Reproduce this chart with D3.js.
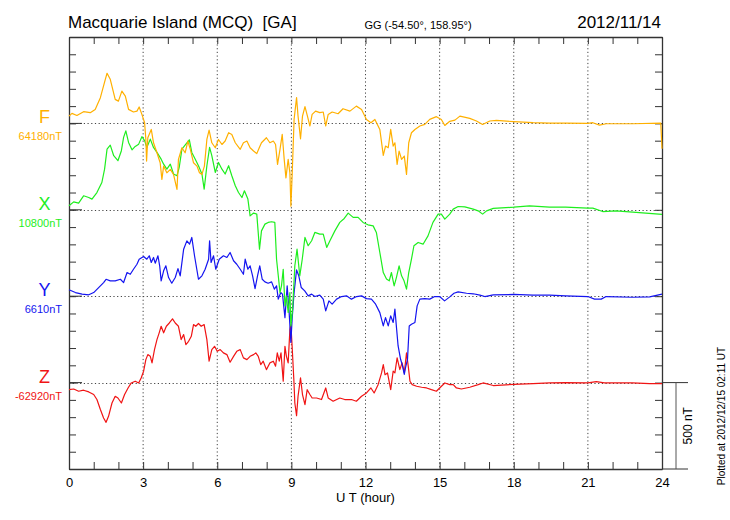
<!DOCTYPE html>
<html>
<head>
<meta charset="utf-8">
<script src="https://cdn.jsdelivr.net/npm/d3@7"></script>
<style>
  body { margin: 0; background: #fff; }
  svg { display: block; font-family: 'Liberation Sans', Arial, Helvetica, sans-serif; }
  .frame path, .frame line { stroke: #333; }
</style>
</head>
<body>
<div id="container"></div>
<script>
const width = 730
const height = 520

// ----------------------------- DATA ----------------------------- //
// [hour UT, nT from baseline]
const fData = [[0,42],[0.12,58],[0.32,46],[0.59,68],[0.86,62],[1.06,81],[1.27,149],[1.47,255],[1.54,290],[1.67,255],[1.87,139],[2.0,129],[2.14,187],[2.28,158],[2.41,81],[2.61,66],[2.75,71],[2.84,95],[2.95,52],[3.06,4],[3.11,-93],[3.14,-218],[3.19,-83],[3.33,-35],[3.42,-112],[3.56,-170],[3.69,-228],[3.76,-324],[3.83,-247],[3.96,-286],[4.10,-266],[4.23,-295],[4.37,-382],[4.43,-208],[4.57,-141],[4.70,-170],[4.81,-102],[4.91,-150],[5.04,-228],[5.18,-247],[5.28,-286],[5.38,-295],[5.48,-247],[5.58,-93],[5.67,-39],[5.78,-112],[5.92,-141],[6.05,-93],[6.19,-122],[6.32,-102],[6.46,-54],[6.59,-64],[6.73,-112],[6.93,-150],[7.06,-112],[7.20,-102],[7.33,-141],[7.47,-160],[7.60,-175],[7.70,-141],[7.79,-112],[7.99,-83],[8.13,-112],[8.27,-102],[8.36,-122],[8.44,-237],[8.54,-150],[8.63,-64],[8.71,-208],[8.78,-315],[8.87,-208],[8.94,-286],[8.98,-479],[9.03,-305],[9.11,23],[9.21,149],[9.27,42],[9.37,-89],[9.45,42],[9.55,97],[9.65,42],[9.75,-15],[9.84,52],[9.98,71],[10.15,62],[10.29,66],[10.39,-15],[10.49,52],[10.65,66],[10.89,56],[11.09,85],[11.37,71],[11.63,100],[11.84,81],[12.04,23],[12.22,4],[12.38,23],[12.58,-35],[12.72,-185],[12.81,-131],[12.92,-141],[13.02,-35],[13.12,-131],[13.19,-112],[13.28,-237],[13.36,-160],[13.46,-208],[13.57,-189],[13.66,-295],[13.75,-112],[13.86,-54],[14.0,-35],[14.2,-15],[14.4,-6],[14.6,23],[14.87,39],[15.07,23],[15.21,-12],[15.41,12],[15.62,19],[15.82,42],[16.22,29],[16.49,14],[16.74,-6],[17.03,14],[17.30,17],[18.0,10],[18.78,4],[19.45,2],[20.1,2],[21.0,0],[21.2,4],[21.47,-10],[21.74,-2],[22.8,-2],[23.95,2],[24.0,-147]]

const xData = [[0,23],[0.19,46],[0.39,39],[0.59,81],[0.8,71],[0.93,62],[1.13,100],[1.33,158],[1.44,235],[1.54,351],[1.67,374],[1.81,313],[1.98,284],[2.12,342],[2.21,419],[2.30,457],[2.41,390],[2.55,347],[2.68,367],[2.82,380],[2.95,423],[3.06,400],[3.15,361],[3.29,409],[3.42,361],[3.56,332],[3.73,293],[3.83,264],[3.96,235],[4.10,264],[4.23,207],[4.37,197],[4.46,245],[4.57,351],[4.73,380],[4.87,405],[4.97,332],[5.11,293],[5.24,255],[5.38,207],[5.47,120],[5.58,255],[5.69,361],[5.78,313],[5.92,216],[6.05,274],[6.19,235],[6.32,207],[6.46,255],[6.59,197],[6.73,139],[6.86,100],[7.0,71],[7.1,110],[7.24,62],[7.33,-35],[7.47,-19],[7.60,-25],[7.71,-228],[7.79,-122],[7.93,-83],[8.06,-73],[8.2,-69],[8.33,-73],[8.40,-286],[8.47,-382],[8.54,-479],[8.60,-440],[8.67,-344],[8.74,-556],[8.80,-498],[8.87,-594],[8.94,-479],[8.98,-672],[9.05,-575],[9.14,-324],[9.23,-228],[9.34,-382],[9.44,-286],[9.55,-160],[9.68,-208],[9.82,-179],[9.95,-131],[10.15,-141],[10.29,-141],[10.43,-218],[10.56,-179],[10.76,-122],[10.96,-73],[11.14,-50],[11.3,-19],[11.5,-44],[11.7,-44],[11.9,-73],[12.1,-87],[12.31,-93],[12.44,-131],[12.58,-247],[12.72,-363],[12.85,-401],[12.96,-411],[13.05,-363],[13.16,-440],[13.25,-392],[13.36,-324],[13.46,-382],[13.56,-411],[13.66,-459],[13.75,-363],[13.86,-286],[13.96,-208],[14.13,-189],[14.33,-199],[14.53,-151],[14.73,-73],[14.94,-25],[15.07,-25],[15.21,-54],[15.41,-25],[15.55,4],[15.75,19],[16.02,17],[16.36,4],[16.56,-6],[16.74,-25],[16.9,-6],[17.17,8],[18.0,15],[18.64,23],[19.45,15],[20.1,15],[21.0,10],[21.2,10],[21.6,-10],[22.14,-6],[22.95,-15],[24.0,-27]]

const yData = [[0,37],[0.26,21],[0.53,12],[0.8,8],[1.0,21],[1.2,50],[1.4,79],[1.5,98],[1.67,89],[1.87,89],[2.08,98],[2.21,79],[2.35,137],[2.48,127],[2.61,156],[2.75,185],[2.84,214],[3.02,230],[3.15,214],[3.25,234],[3.33,195],[3.42,224],[3.49,191],[3.60,234],[3.67,176],[3.73,89],[3.83,147],[3.92,176],[4.03,108],[4.16,75],[4.30,108],[4.41,160],[4.5,118],[4.64,272],[4.77,320],[4.88,301],[4.97,340],[5.08,234],[5.24,98],[5.38,118],[5.51,156],[5.65,214],[5.69,320],[5.75,195],[5.85,234],[5.94,156],[6.08,214],[6.25,234],[6.39,224],[6.52,253],[6.66,205],[6.79,185],[6.93,156],[7.06,127],[7.13,214],[7.24,156],[7.33,176],[7.43,118],[7.53,44],[7.63,118],[7.72,176],[7.82,98],[7.93,83],[8.06,75],[8.2,83],[8.31,41],[8.40,60],[8.47,-17],[8.57,21],[8.64,12],[8.74,-124],[8.83,60],[8.91,-95],[8.98,-268],[9.03,-133],[9.11,21],[9.21,152],[9.30,118],[9.40,50],[9.54,31],[9.68,2],[9.82,12],[9.95,-2],[10.15,6],[10.29,-17],[10.39,-85],[10.52,-27],[10.65,-46],[10.83,-17],[11.03,-2],[11.23,2],[11.43,-17],[11.64,-2],[11.84,2],[12.04,-14],[12.24,-17],[12.41,-46],[12.58,-95],[12.72,-172],[12.81,-124],[12.92,-172],[13.02,-114],[13.12,-152],[13.19,-75],[13.26,-191],[13.32,-288],[13.42,-365],[13.5,-403],[13.57,-452],[13.62,-413],[13.70,-365],[13.77,-172],[13.86,-162],[14.0,-152],[14.09,-56],[14.2,-17],[14.4,-14],[14.6,-17],[14.8,-2],[15.0,-2],[15.2,-27],[15.41,-4],[15.58,17],[15.75,25],[16.09,17],[16.36,14],[16.63,6],[16.83,-2],[17.17,8],[18.0,10],[18.78,6],[19.45,6],[20.1,2],[21.0,-2],[21.27,-17],[21.54,-17],[21.74,-2],[22.8,-6],[23.5,-4],[24.0,12]]

const zData = [[0,-41],[0.19,-37],[0.39,-50],[0.59,-44],[0.8,-54],[1.0,-69],[1.13,-98],[1.27,-156],[1.40,-205],[1.50,-230],[1.60,-195],[1.74,-118],[1.87,-79],[1.98,-89],[2.12,-118],[2.25,-69],[2.39,-31],[2.52,-2],[2.68,8],[2.82,-2],[2.92,27],[3.02,66],[3.11,133],[3.19,162],[3.29,152],[3.36,114],[3.46,191],[3.56,249],[3.65,288],[3.73,326],[3.83,288],[3.94,326],[4.06,345],[4.19,369],[4.30,345],[4.43,326],[4.54,249],[4.64,278],[4.73,220],[4.84,239],[4.95,268],[5.04,336],[5.13,326],[5.24,342],[5.35,326],[5.47,336],[5.58,249],[5.67,124],[5.78,191],[5.89,210],[6.0,181],[6.12,191],[6.25,172],[6.39,162],[6.52,118],[6.66,152],[6.79,181],[6.93,191],[7.06,143],[7.20,133],[7.33,152],[7.47,162],[7.56,172],[7.66,152],[7.76,104],[7.86,124],[7.99,75],[8.13,114],[8.27,124],[8.36,95],[8.43,172],[8.51,124],[8.58,172],[8.67,8],[8.74,210],[8.80,152],[8.87,114],[8.94,307],[8.98,336],[9.03,210],[9.10,17],[9.14,-118],[9.21,-191],[9.27,-79],[9.37,27],[9.45,-69],[9.55,-127],[9.64,-41],[9.75,-69],[9.84,-89],[10.02,-89],[10.22,-98],[10.39,-31],[10.49,-89],[10.69,-108],[10.96,-89],[11.16,-98],[11.43,-98],[11.63,-108],[11.84,-79],[12.04,-60],[12.22,-31],[12.35,-60],[12.51,-12],[12.65,56],[12.72,104],[12.79,46],[12.89,56],[13.02,-41],[13.12,66],[13.19,56],[13.28,143],[13.39,75],[13.48,114],[13.57,56],[13.66,172],[13.73,95],[13.80,8],[13.89,-12],[14.07,-21],[14.27,-27],[14.47,-31],[14.67,-41],[14.87,-50],[15.0,-31],[15.21,-2],[15.41,-12],[15.55,-12],[15.68,-31],[15.88,-37],[16.22,-27],[16.56,-12],[16.76,-2],[17.17,-17],[18.0,-10],[18.78,-6],[19.45,-2],[20.1,0],[21.0,-2],[21.34,6],[21.67,-2],[22.8,-2],[23.5,-6],[24.0,-6]]

const components = ['F', 'X', 'Y', 'Z']
const baselineLabels = ['64180nT', '10800nT', '6610nT', '-62920nT']
const componentColors = ['#FFB000', '#1EEE1E', '#1414F0', '#F01414']
const componentOffsets = [2000, 1500, 1000, 500]   // nT position of each baseline in the stack
const hourTicks = [0, 3, 6, 9, 12, 15, 18, 21, 24]

// ---------------------------- SCALES ---------------------------- //
const x0 = 69, x1 = 662, yTop = 37, yBot = 469
const xScale = d3.scaleLinear().domain([0, 24]).range([x0, x1])
const yScale = d3.scaleLinear().domain([0, 2500]).range([yBot, yTop])

const svg = d3.select('#container').append('svg')
    .attr('width', width)
    .attr('height', height)

// grid
const grid = svg.append('g')
grid.selectAll('.vgrid')
    .data(hourTicks.slice(1, -1))
    .enter().append('line')
    .attr('x1', d => xScale(d)).attr('x2', d => xScale(d))
    .attr('y1', yTop).attr('y2', yBot)
    .attr('stroke', '#444').attr('stroke-width', 1)
    .attr('stroke-dasharray', '1.2,2.5')
grid.selectAll('.hgrid')
    .data(componentOffsets)
    .enter().append('line')
    .attr('x1', x0).attr('x2', x1)
    .attr('y1', d => Math.round(yScale(d)) + 0.5).attr('y2', d => Math.round(yScale(d)) + 0.5)
    .attr('stroke', '#444').attr('stroke-width', 1)
    .attr('stroke-dasharray', '1.2,2.5')

// ----------------------------- AXES ----------------------------- //
const nTicks = d3.range(0, 2501, 100)
const hours = d3.range(0, 25, 1)

svg.append('g').attr('class', 'frame')
    .attr('transform', `translate(${x0},0)`)
    .call(d3.axisRight(yScale).tickValues(nTicks).tickSize(7).tickFormat('').tickSizeOuter(0))
svg.append('g').attr('class', 'frame')
    .attr('transform', `translate(${x1},0)`)
    .call(d3.axisLeft(yScale).tickValues(nTicks).tickSize(7).tickFormat('').tickSizeOuter(0))
svg.append('g').attr('class', 'frame')
    .attr('transform', `translate(0,${yTop})`)
    .call(d3.axisBottom(xScale).tickValues(hours).tickSize(7).tickFormat('').tickSizeOuter(0))
svg.append('g').attr('class', 'frame')
    .attr('transform', `translate(0,${yBot})`)
    .call(d3.axisTop(xScale).tickValues(hours).tickSize(7).tickFormat('').tickSizeOuter(0))

svg.selectAll('.frame .domain').attr('stroke-width', 1.3)

// longer marks at the baselines
svg.append('g').selectAll('line')
    .data(componentOffsets)
    .enter().append('line')
    .attr('x1', x0).attr('x2', x0 + 13)
    .attr('y1', d => yScale(d)).attr('y2', d => yScale(d))
    .attr('stroke', '#333')

// hour labels
svg.append('g')
    .attr('transform', `translate(0,${yBot})`)
    .call(d3.axisBottom(xScale).tickValues(hourTicks).tickSize(0).tickPadding(9))
    .call(g => g.select('.domain').remove())
    .selectAll('text')
    .attr('font-size', 13)
    .attr('font-family', "'Liberation Sans', Arial, sans-serif")
    .attr('fill', '#000')

svg.append('text')
    .attr('x', xScale(12)).attr('y', 502)
    .attr('text-anchor', 'middle')
    .attr('font-size', 13)
    .text('U T (hour)')

// ----------------------------- LINES ---------------------------- //
const allData = [fData, xData, yData, zData]
const line = k => d3.line()
    .x(d => xScale(d[0]))
    .y(d => yScale(componentOffsets[k] + d[1]))

const drawOrder = [3, 2, 1, 0]
drawOrder.forEach(k => {
    svg.append('path')
        .attr('d', line(k)(allData[k]))
        .attr('fill', 'none')
        .attr('stroke', componentColors[k])
        .attr('stroke-width', 1.2)
        .attr('stroke-linejoin', 'round')
})

// component labels
components.forEach((c, k) => {
    const yb = yScale(componentOffsets[k])
    svg.append('text')
        .attr('x', 44.5).attr('y', yb)
        .attr('text-anchor', 'middle')
        .attr('font-size', 18)
        .attr('fill', componentColors[k])
        .text(c)
    svg.append('text')
        .attr('x', 62).attr('y', yb + 17)
        .attr('text-anchor', 'end')
        .attr('font-size', 11)
        .attr('fill', componentColors[k])
        .text(baselineLabels[k])
})

// ------------------------- SCALE BAR ---------------------------- //
const barX = 676
svg.append('line')
    .attr('x1', x1).attr('x2', 688)
    .attr('y1', yScale(500)).attr('y2', yScale(500))
    .attr('stroke', '#333')
svg.append('line')
    .attr('x1', x1).attr('x2', 688)
    .attr('y1', yBot).attr('y2', yBot)
    .attr('stroke', '#333')
svg.append('line')
    .attr('x1', barX).attr('x2', barX)
    .attr('y1', yScale(500)).attr('y2', yBot)
    .attr('stroke', '#555')
svg.append('text')
    .attr('transform', `translate(692,${(yScale(500) + yBot) / 2}) rotate(-90)`)
    .attr('text-anchor', 'middle')
    .attr('font-size', 12)
    .text('500 nT')

svg.append('text')
    .attr('transform', 'translate(725,416) rotate(-90)')
    .attr('text-anchor', 'middle')
    .attr('font-size', 10)
    .text('Plotted at 2012/12/15 02:11  UT')

// ---------------------------- TITLES ---------------------------- //
svg.append('text')
    .attr('x', 68).attr('y', 28)
    .attr('font-size', 17)
    .attr('xml:space', 'preserve')
    .text('Macquarie Island (MCQ)  [GA]')
svg.append('text')
    .attr('x', 418).attr('y', 29)
    .attr('text-anchor', 'middle')
    .attr('font-size', 11)
    .text('GG (-54.50°, 158.95°)')
svg.append('text')
    .attr('x', 661).attr('y', 28)
    .attr('text-anchor', 'end')
    .attr('font-size', 17)
    .text('2012/11/14')
</script>
</body>
</html>
